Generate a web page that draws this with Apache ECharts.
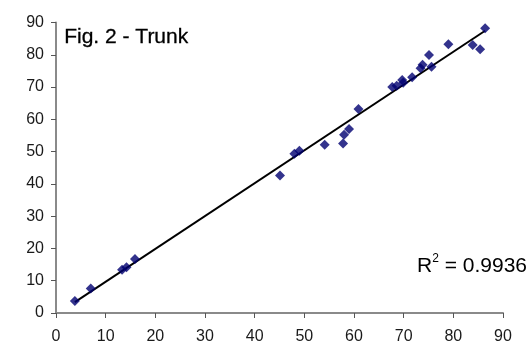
<!DOCTYPE html>
<html>
<head>
<meta charset="utf-8">
<script src="https://cdn.jsdelivr.net/npm/echarts@6/dist/echarts.min.js"></script>
<style>
  html, body { margin: 0; padding: 0; background: #fff; }
  #chart { width: 529px; height: 345px; }
</style>
</head>
<body>
<div id="chart"></div>
<script>
// Measured trunk values (x) against estimated values (y)
const xValues = [3.8, 7.0, 13.3, 14.2, 15.9, 45.1, 48.0, 49.0, 54.1, 57.8, 58.0, 59.0,
                 60.9, 67.7, 68.6, 69.7, 69.9, 71.7, 73.4, 73.8, 75.6, 75.1, 79.0, 83.9, 85.4, 86.4];
const yValues = [3.7, 7.6, 13.4, 14.2, 16.7, 42.6, 49.3, 50.3, 52.1, 52.5, 55.2, 57.0,
                 63.2, 70.0, 70.4, 72.2, 71.3, 73.0, 75.8, 76.9, 76.3, 79.9, 83.3, 83.0, 81.7, 88.2];
const xTicks = [0, 10, 20, 30, 40, 50, 60, 70, 80, 90];
const yTicks = [0, 10, 20, 30, 40, 50, 60, 70, 80, 90];
const titleText = 'Fig. 2 - Trunk';
const r2Text = '0.9936';

// Least-squares linear trendline over the data range
const n = xValues.length;
const mx = xValues.reduce((a, b) => a + b, 0) / n;
const my = yValues.reduce((a, b) => a + b, 0) / n;
let sxy = 0, sxx = 0;
for (let i = 0; i < n; i++) {
  sxy += (xValues[i] - mx) * (yValues[i] - my);
  sxx += (xValues[i] - mx) * (xValues[i] - mx);
}
const slope = sxy / sxx;
const intercept = my - slope * mx;
const xMin = Math.min(...xValues), xMax = Math.max(...xValues);
const trend = [[xMin, intercept + slope * xMin], [xMax, intercept + slope * xMax]];

const points = xValues.map((x, i) => [x, yValues[i]]);
const font = '"Liberation Sans", Arial, sans-serif';
const axisColor = '#8a8a8a';

const chart = echarts.init(document.getElementById('chart'), null, { renderer: 'canvas' });
chart.setOption({
  animation: false,
  backgroundColor: '#ffffff',
  grid: { left: 56, right: 26, top: 22.5, bottom: 31, containLabel: false },
  xAxis: {
    type: 'value',
    min: xTicks[0], max: xTicks[xTicks.length - 1], interval: 10,
    splitLine: { show: false },
    axisLine: { show: true, onZero: false, lineStyle: { color: axisColor, width: 2 } },
    axisTick: { show: true, inside: false, length: 5, lineStyle: { color: '#555', width: 1 } },
    axisLabel: { margin: 16, color: '#1a1a1a', fontFamily: font, fontSize: 16 }
  },
  yAxis: {
    type: 'value',
    min: yTicks[0], max: yTicks[yTicks.length - 1], interval: 10,
    splitLine: { show: false },
    axisLine: { show: true, onZero: false, lineStyle: { color: axisColor, width: 2 } },
    axisTick: { show: true, inside: false, length: 5, lineStyle: { color: '#555', width: 1 } },
    axisLabel: { margin: 12, color: '#1a1a1a', fontFamily: font, fontSize: 16 }
  },
  graphic: [
    {
      type: 'text', left: 64, top: 27,
      style: { text: titleText, fill: '#000', font: '21px ' + font, stroke: '#000', lineWidth: 0.3 }
    },
    {
      type: 'text', right: 2, top: 253,
      style: {
        text: '{r|R}{s|2}{r| = ' + r2Text + '}',
        rich: {
          r: { fontFamily: font, fontSize: 21, fill: '#000', verticalAlign: 'bottom', lineHeight: 24 },
          s: { fontFamily: font, fontSize: 12, fill: '#000', verticalAlign: 'top', lineHeight: 24, padding: [0, 0, 12, 0] }
        }
      }
    }
  ],
  series: [
    {
      type: 'line',
      data: trend,
      symbol: 'none',
      lineStyle: { color: '#000', width: 2 },
      z: 2
    },
    {
      type: 'scatter',
      data: points,
      symbol: 'diamond',
      symbolSize: [10, 10],
      itemStyle: { color: '#000070' },
      z: 3
    }
  ]
});
</script>
</body>
</html>
